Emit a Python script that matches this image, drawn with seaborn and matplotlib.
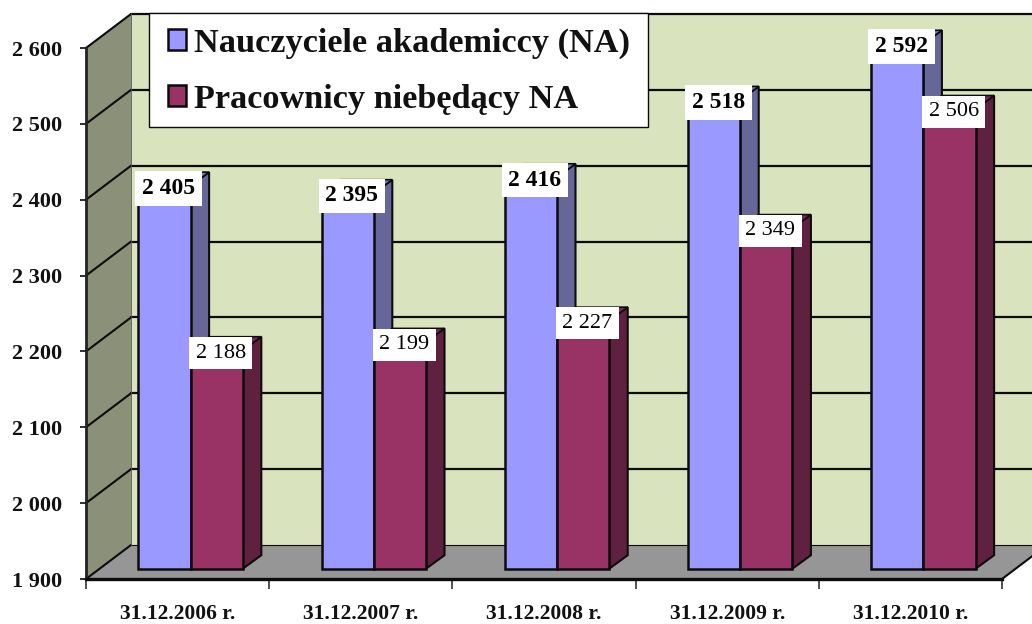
import matplotlib
matplotlib.use("Agg")
import matplotlib.pyplot as plt
from matplotlib.patches import Polygon, Rectangle
from matplotlib.transforms import IdentityTransform
import pandas as pd
import seaborn as sns

categories = ["31.12.2006 r.", "31.12.2007 r.", "31.12.2008 r.", "31.12.2009 r.", "31.12.2010 r."]
series_names = ["Nauczyciele akademiccy (NA)", "Pracownicy niebędący NA"]
nauczyciele = [2405, 2395, 2416, 2518, 2592]
pracownicy = [2188, 2199, 2227, 2349, 2506]
y_ticks = [1900, 2000, 2100, 2200, 2300, 2400, 2500, 2600]

FRONT = ["#9999FF", "#993366"]
SIDE = ["#666699", "#602040"]
TOP = ["#7A7ACC", "#7A2952"]
WALL, LEFT_WALL, FLOOR = "#D9E3BD", "#8B9178", "#969696"
INK = "#0c0c0c"
SERIF = "Liberation Serif"

W, H = 1032, 624
sns.set_theme(style="white")
plt.rcParams["font.family"] = [SERIF, "DejaVu Sans"]

fig = plt.figure(figsize=(W / 100, H / 100), dpi=100, facecolor="white")


def axes_px(left, right, bottom, top):
    return fig.add_axes([left / W, (H - bottom) / H, (right - left) / W, (bottom - top) / H])


# front plane of the chart box, and the plane of the bars' front faces
ax = axes_px(86, 1002, 579, 48)
WALL_DX, WALL_DY = 45, 34
BAR_SHIFT_X, BAR_SHIFT_Y = 13, 10.3
axb = axes_px(86 + BAR_SHIFT_X, 1002 + BAR_SHIFT_X, 579 - BAR_SHIFT_Y, 48 - BAR_SHIFT_Y)
DEPTH_X, DEPTH_Y = 18.5, 13.5

xmin, xmax = -0.5, len(categories) - 0.5
ymin, ymax = y_ticks[0], y_ticks[-1]

for a in (ax, axb):
    a.set_xlim(xmin, xmax)
    a.set_ylim(ymin, ymax)
ax.set_zorder(1)
axb.set_zorder(2)
axb.patch.set_alpha(0)
ax.patch.set_alpha(0)


def face(points, color, a=ax, zorder=1, **kw):
    """Polygon whose corners are data points plus a pixel depth shift."""
    disp = []
    for x, y, dx, dy in points:
        px, py = a.transData.transform((x, y))
        disp.append((px + dx, py + dy))
    p = Polygon(disp, closed=True, facecolor=color, transform=IdentityTransform(),
                zorder=zorder, clip_on=False, **kw)
    a.add_patch(p)
    return p


# walls and floor
face([(xmin, ymin, WALL_DX, WALL_DY), (xmax, ymin, WALL_DX, WALL_DY),
      (xmax, ymax, WALL_DX, WALL_DY), (xmin, ymax, WALL_DX, WALL_DY)], WALL, edgecolor="none")
face([(xmin, ymin, 0, 0), (xmin, ymin, WALL_DX, WALL_DY),
      (xmin, ymax, WALL_DX, WALL_DY), (xmin, ymax, 0, 0)], LEFT_WALL, edgecolor="none")
face([(xmin, ymin, 0, 0), (xmax, ymin, 0, 0),
      (xmax, ymin, WALL_DX, WALL_DY), (xmin, ymin, WALL_DX, WALL_DY)], FLOOR, edgecolor="none")

# gridlines across the walls
for v in y_ticks:
    p0 = ax.transData.transform((xmin, v))
    p1 = p0 + (WALL_DX, WALL_DY)
    p2 = ax.transData.transform((xmax, v)) + (WALL_DX, WALL_DY)
    is_floor = v == y_ticks[0]
    ax.plot([p0[0], p1[0]], [p0[1], p1[1]], color=INK, lw=1.5, transform=IdentityTransform(),
            zorder=1.5, clip_on=False, solid_capstyle="round")
    ax.plot([p1[0], p2[0]], [p1[1], p2[1]], color=INK, lw=0.8 if is_floor else 1.6,
            transform=IdentityTransform(), zorder=1.5, clip_on=False)
pr0 = ax.transData.transform((xmax, ymin))
ax.plot([pr0[0], pr0[0] + WALL_DX], [pr0[1], pr0[1] + WALL_DY], color=INK, lw=1.5,
        transform=IdentityTransform(), zorder=1.5, clip_on=False)
wall_left = ax.transData.transform((xmin, ymin))[0] + WALL_DX
ax.plot([wall_left, wall_left], [H - 545, H - 13], color="#555555", lw=0.6,
        transform=IdentityTransform(), zorder=1.6, clip_on=False)

# front frame
ax.set_xticks([i - 0.5 for i in range(len(categories) + 1)])
ax.set_xticklabels([])
ax.set_yticks(y_ticks)
ax.set_yticklabels([f"{v:,}".replace(",", " ") for v in y_ticks],
                   fontsize=16, fontweight="bold", color="#111111", family=SERIF)
ax.tick_params(axis="y", length=4.5, width=1.2, color=INK, pad=13, left=True)
ax.tick_params(axis="x", length=7, width=1.2, color="#333333", bottom=True)
for s in ("top", "right"):
    ax.spines[s].set_visible(False)
ax.spines["left"].set_linewidth(2)
ax.spines["left"].set_color("#222222")
ax.spines["bottom"].set_linewidth(2.4)
ax.spines["bottom"].set_color(INK)
ax.spines["left"].set_zorder(1.7)
ax.spines["bottom"].set_zorder(1.7)
for i, c in enumerate(categories):
    ax.annotate(c, xy=(i, ymin), xycoords="data", xytext=(0, -29), textcoords="offset points",
                ha="center", va="baseline", fontsize=15.5, fontweight="bold", color="#111111",
                family=SERIF, annotation_clip=False)

# bars
df = pd.DataFrame({
    "data": categories * 2,
    "seria": [series_names[0]] * 5 + [series_names[1]] * 5,
    "liczba": nauczyciele + pracownicy,
})
sns.barplot(data=df, x="data", y="liczba", hue="seria", palette=FRONT, hue_order=series_names,
            order=categories, width=0.57, gap=0, ax=axb, edgecolor=INK, linewidth=1.8,
            saturation=1, errorbar=None, zorder=4)
axb.set_xlim(xmin, xmax)
axb.set_ylim(ymin, ymax)
axb.axis("off")

handles, labels = axb.get_legend_handles_labels()

for s_idx, container in enumerate(axb.containers):
    for bar, value in zip(container, [nauczyciele, pracownicy][s_idx]):
        bar.set_y(ymin)
        bar.set_height(value - ymin)
        bar.set_clip_on(False)
        bar.set_zorder(4)
        x0, x1 = bar.get_x(), bar.get_x() + bar.get_width()
        z = 2 + s_idx
        face([(x1, ymin, 0, 0), (x1, ymin, DEPTH_X, DEPTH_Y),
              (x1, value, DEPTH_X, DEPTH_Y), (x1, value, 0, 0)], SIDE[s_idx], a=axb, zorder=z,
             edgecolor=INK, linewidth=1.5)
        face([(x0, value, 0, 0), (x1, value, 0, 0),
              (x1, value, DEPTH_X, DEPTH_Y), (x0, value, DEPTH_X, DEPTH_Y)], TOP[s_idx], a=axb,
             zorder=z, edgecolor=INK, linewidth=1.2)
        axb.annotate(f"{value:,}".replace(",", " "), xy=(bar.get_x() + bar.get_width() / 2, value),
                     xytext=(3.0, -2.0), textcoords="offset points", ha="center", va="center",
                     fontsize=17 if s_idx == 0 else 16,
                     fontweight="bold" if s_idx == 0 else "normal",
                     color="black", family=SERIF, zorder=6, annotation_clip=False,
                     bbox=dict(boxstyle="square,pad=0.29", facecolor="white", edgecolor="none"))

# legend box with its own frame, so its height can follow the reference
axb.add_patch(Rectangle((149, H - 127), 499, 114, facecolor="white", edgecolor=INK, linewidth=1.0,
                        transform=IdentityTransform(), zorder=6.5, clip_on=False))
leg = axb.legend(handles, labels, loc="upper left", bbox_to_anchor=(149, H - 9),
                 bbox_transform=IdentityTransform(), borderaxespad=0, frameon=False,
                 title=None, prop={"family": SERIF, "weight": "bold", "size": 24.7},
                 handlelength=0.53, handleheight=0.56, handletextpad=0.24, labelspacing=0.72,
                 borderpad=0.55)
leg.set_zorder(7)
for t in leg.get_texts():
    t.set_color("#111111")
for h in leg.get_patches():
    h.set_edgecolor(INK)
    h.set_linewidth(1.8)

fig.savefig("out.png", dpi=100)
